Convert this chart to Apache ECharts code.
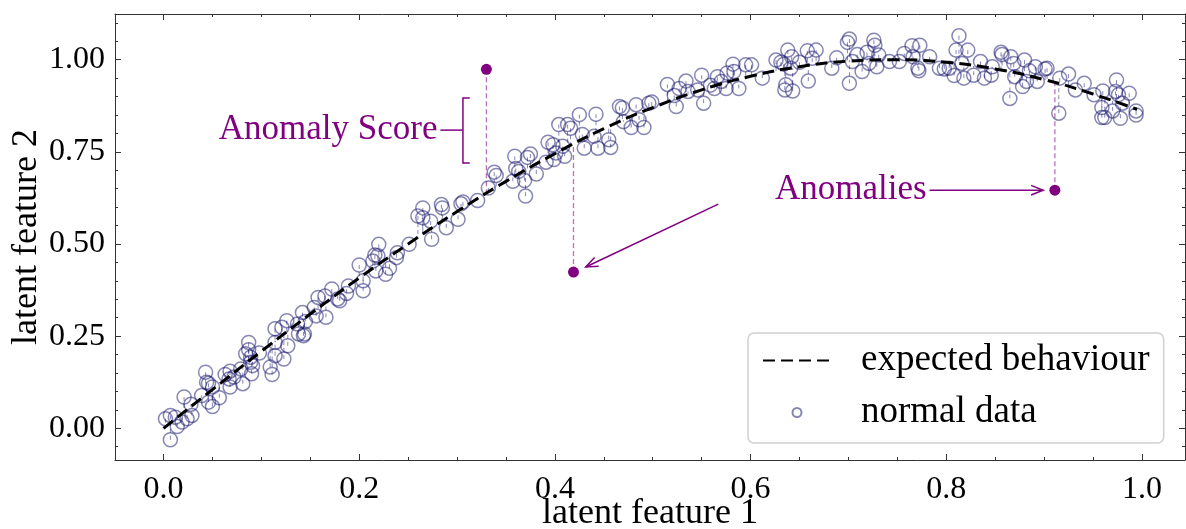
<!DOCTYPE html>
<html>
<head>
<meta charset="utf-8">
<title>latent features</title>
<script src="https://cdn.jsdelivr.net/npm/echarts@6/dist/echarts.min.js"></script>
<style>
    html, body { margin: 0; padding: 0; background: #fff; }
    #main { width: 1186px; height: 529px; }
</style>
</head>
<body>
<div id="main"></div>
<script>
// expected behaviour
var curveX = [0.00, 0.05, 0.10, 0.15, 0.20, 0.25, 0.30, 0.35, 0.40, 0.45, 0.50,
    0.55, 0.60, 0.65, 0.70, 0.75, 0.80, 0.85, 0.90, 0.95, 0.995];
var curveY = [0.000, 0.105, 0.209, 0.310, 0.408, 0.500, 0.588, 0.670, 0.745, 0.813, 0.870,
    0.918, 0.955, 0.981, 0.996, 1.000, 0.993, 0.975, 0.946, 0.907, 0.865];

// normal data
var normalX = [
    0.002, 0.007, 0.007, 0.012, 0.014, 0.019, 0.021, 0.024, 0.028, 0.029,
    0.039, 0.043, 0.044, 0.046, 0.046, 0.050, 0.050, 0.057, 0.063, 0.067,
    0.068, 0.072, 0.068, 0.081, 0.079, 0.084, 0.087, 0.087, 0.089, 0.090,
    0.091, 0.089, 0.098, 0.109, 0.111, 0.114, 0.114, 0.114, 0.121, 0.123,
    0.126, 0.127, 0.137, 0.138, 0.142, 0.144, 0.145, 0.143, 0.154, 0.156,
    0.158, 0.166, 0.165, 0.172, 0.178, 0.180, 0.187, 0.189, 0.200, 0.204,
    0.204, 0.214, 0.216, 0.217, 0.220, 0.219, 0.227, 0.231, 0.238, 0.239,
    0.251, 0.260, 0.265, 0.265, 0.273, 0.274, 0.284, 0.285, 0.289, 0.301,
    0.304, 0.306, 0.321, 0.332, 0.338, 0.340, 0.359, 0.357, 0.360, 0.363,
    0.369, 0.370, 0.372, 0.375, 0.381, 0.391, 0.393, 0.398, 0.399, 0.401,
    0.404, 0.408, 0.410, 0.413, 0.416, 0.425, 0.428, 0.430, 0.442, 0.440,
    0.444, 0.455, 0.457, 0.466, 0.469, 0.470, 0.478, 0.483, 0.486, 0.491,
    0.496, 0.499, 0.515, 0.522, 0.524, 0.527, 0.534, 0.536, 0.546, 0.550,
    0.552, 0.559, 0.563, 0.566, 0.570, 0.575, 0.576, 0.582, 0.583, 0.588,
    0.595, 0.601, 0.612, 0.626, 0.631, 0.634, 0.638, 0.642, 0.636, 0.635,
    0.643, 0.641, 0.650, 0.658, 0.659, 0.663, 0.667, 0.683, 0.688, 0.699,
    0.701, 0.701, 0.704, 0.709, 0.714, 0.719, 0.721, 0.726, 0.727, 0.729,
    0.731, 0.742, 0.752, 0.757, 0.765, 0.766, 0.771, 0.772, 0.773, 0.783,
    0.793, 0.798, 0.803, 0.808, 0.810, 0.813, 0.818, 0.822, 0.816, 0.828,
    0.835, 0.839, 0.846, 0.847, 0.856, 0.857, 0.866, 0.865, 0.869, 0.870,
    0.878, 0.880, 0.882, 0.885, 0.891, 0.893, 0.901, 0.903, 0.915, 0.916,
    0.925, 0.932, 0.941, 0.951, 0.960, 0.959, 0.959, 0.962, 0.970, 0.974,
    0.973, 0.976, 0.978, 0.980, 0.987, 0.994, 0.994
];
var normalY = [
    0.026, 0.035, -0.031, 0.030, 0.005, 0.017, 0.085, 0.026, 0.065, 0.035,
    0.089, 0.152, 0.125, 0.122, 0.071, 0.112, 0.059, 0.083, 0.146, 0.134,
    0.112, 0.139, 0.155, 0.121, 0.161, 0.202, 0.233, 0.213, 0.179, 0.148,
    0.170, 0.193, 0.204, 0.166, 0.146, 0.197, 0.270, 0.233, 0.274, 0.188,
    0.292, 0.224, 0.283, 0.256, 0.314, 0.256, 0.290, 0.251, 0.328, 0.305,
    0.355, 0.301, 0.359, 0.378, 0.351, 0.346, 0.366, 0.386, 0.443, 0.400,
    0.373, 0.454, 0.470, 0.427, 0.499, 0.468, 0.418, 0.434, 0.463, 0.476,
    0.499, 0.576, 0.598, 0.571, 0.562, 0.513, 0.607, 0.598, 0.544, 0.567,
    0.609, 0.614, 0.618, 0.652, 0.695, 0.686, 0.738, 0.670, 0.705, 0.697,
    0.672, 0.630, 0.735, 0.744, 0.690, 0.722, 0.776, 0.769, 0.729, 0.747,
    0.824, 0.765, 0.738, 0.824, 0.814, 0.851, 0.797, 0.760, 0.852, 0.792,
    0.760, 0.783, 0.762, 0.873, 0.869, 0.832, 0.816, 0.878, 0.837, 0.816,
    0.882, 0.885, 0.933, 0.903, 0.873, 0.922, 0.942, 0.914, 0.918, 0.958,
    0.882, 0.931, 0.922, 0.954, 0.941, 0.922, 0.964, 0.988, 0.968, 0.922,
    0.986, 0.986, 0.950, 0.999, 0.993, 0.988, 1.026, 1.008, 0.932, 0.918,
    0.915, 0.977, 0.993, 1.024, 0.942, 1.004, 1.026, 0.977, 1.005, 1.047,
    1.056, 0.936, 0.995, 1.014, 0.968, 1.020, 0.990, 1.053, 1.039, 0.981,
    1.013, 0.995, 0.995, 1.017, 1.038, 1.008, 0.977, 0.970, 1.039, 1.008,
    0.977, 0.975, 0.977, 0.957, 1.026, 1.065, 0.950, 1.026, 0.990, 0.958,
    0.995, 0.950, 0.958, 0.981, 1.020, 1.014, 1.008, 0.895, 0.990, 0.954,
    0.927, 0.999, 0.941, 0.970, 0.981, 0.941, 0.975, 0.977, 0.855, 0.950,
    0.961, 0.918, 0.936, 0.905, 0.915, 0.870, 0.843, 0.843, 0.861, 0.945,
    0.914, 0.905, 0.841, 0.882, 0.909, 0.861, 0.850
];

// anomalies
var anomalyX = [0.330, 0.419, 0.911];
var anomalyY = [0.974, 0.424, 0.646];

// ticks
var xTicks = [0.0, 0.2, 0.4, 0.6, 0.8, 1.0];
var yTicks = [0.00, 0.25, 0.50, 0.75, 1.00];

var xMin = -0.0496, xMax = 1.044;
var yMin = -0.086, yMax = 1.124;

var serif = 'Liberation Serif';
var purple = '#800080';
var pointColor = 'rgba(25, 25, 112, 0.52)';

var xMinorTicks = [];
for (var i = -1; i <= 20; i++) xMinorTicks.push(+(i * 0.05).toFixed(2));
var yMinorTicks = [];
for (var j = -1; j <= 22; j++) yMinorTicks.push(+(j * 0.05).toFixed(2));

function expected(x) {
    for (var k = 1; k < curveX.length; k++) {
        if (x <= curveX[k]) {
            var t = (x - curveX[k - 1]) / (curveX[k] - curveX[k - 1]);
            return curveY[k - 1] + t * (curveY[k] - curveY[k - 1]);
        }
    }
    return curveY[curveY.length - 1];
}

function makeAxis(kind, position, ticks, len, showLine, showLabel) {
    var isX = kind === 'x';
    var axis = {
        type: 'value',
        position: position,
        min: isX ? xMin : yMin,
        max: isX ? xMax : yMax,
        splitLine: {show: false},
        axisLine: {show: showLine, onZero: false, lineStyle: {color: '#333', width: 1}},
        axisTick: {show: true, inside: true, length: len, customValues: ticks,
            lineStyle: {color: '#333', width: 1}},
        axisLabel: {show: false}
    };
    if (showLabel) {
        axis.axisLabel = {
            show: true,
            customValues: ticks,
            color: '#000',
            fontFamily: serif,
            fontSize: 32,
            margin: isX ? 14 : 10,
            formatter: function (v) {
                return isX ? v.toFixed(1) : v.toFixed(2);
            }
        };
        axis.nameLocation = 'middle';
        axis.nameMoveOverlap = false;
        axis.nameTextStyle = {color: '#000', fontFamily: serif, fontSize: 36};
        if (isX) {
            axis.name = 'latent feature 1';
            axis.nameGap = 36;
        } else {
            axis.name = 'latent feature 2';
            axis.nameGap = 70;
        }
    }
    return axis;
}

var chart = echarts.init(document.getElementById('main'));

var curveData = curveX.map(function (x, i) { return [x, curveY[i]]; });
var normalData = normalX.map(function (x, i) { return [x, normalY[i]]; });
var normalResid = normalX.map(function (x, i) { return [x, normalY[i], expected(x)]; });
var anomalyData = anomalyX.map(function (x, i) { return [x, anomalyY[i]]; });
var anomalyResid = anomalyX.map(function (x, i) { return [x, anomalyY[i], expected(x)]; });

function residualSeries(data, color, width, dash) {
    return {
        type: 'custom',
        silent: true,
        z: 1,
        data: data,
        encode: {x: 0, y: 1},
        renderItem: function (params, api) {
            var x = api.value(0);
            var p1 = api.coord([x, api.value(1)]);
            var p2 = api.coord([x, api.value(2)]);
            return {
                type: 'line',
                shape: {x1: p1[0], y1: p1[1], x2: p2[0], y2: p2[1]},
                style: {stroke: color, lineWidth: width, lineDash: dash}
            };
        }
    };
}

var option = {
    animation: false,
    backgroundColor: '#fff',
    grid: {left: 115, right: 1, top: 14, bottom: 69, outerBoundsMode: 'none', containLabel: false},
    xAxis: [
        makeAxis('x', 'bottom', xTicks, 6, true, true),
        makeAxis('x', 'bottom', xMinorTicks, 3, false, false),
        makeAxis('x', 'top', xTicks, 6, true, false),
        makeAxis('x', 'top', xMinorTicks, 3, false, false)
    ],
    yAxis: [
        makeAxis('y', 'left', yTicks, 6, true, true),
        makeAxis('y', 'left', yMinorTicks, 3, false, false),
        makeAxis('y', 'right', yTicks, 6, true, false),
        makeAxis('y', 'right', yMinorTicks, 3, false, false)
    ],
    legend: {
        orient: 'vertical',
        left: 748,
        top: 333,
        padding: [9, 14, 12, 14],
        itemGap: 15,
        itemWidth: 68,
        itemHeight: 9,
        borderColor: '#d0d0d0',
        borderWidth: 1.5,
        borderRadius: 6,
        backgroundColor: '#fff',
        textStyle: {color: '#000', fontFamily: serif, fontSize: 37, lineHeight: 36,
            padding: [0, 0, 0, 25]},
        data: [
            {name: 'expected behaviour', itemStyle: {opacity: 0}},
            {name: 'normal data'}
        ]
    },
    series: [
        residualSeries(normalResid, pointColor, 1, [4, 3]),
        residualSeries(anomalyResid, 'rgba(128, 0, 128, 0.55)', 1.3, [5, 3]),
        {
            name: 'normal data',
            type: 'scatter',
            z: 2,
            symbol: 'circle',
            symbolSize: 14,
            itemStyle: {color: 'rgba(0,0,0,0)', borderColor: pointColor, borderWidth: 1.5, opacity: 1},
            data: normalData
        },
        {
            name: 'expected behaviour',
            type: 'line',
            z: 3,
            smooth: true,
            symbol: 'none',
            showSymbol: false,
            lineStyle: {color: '#000', width: 3, type: [12, 6]},
            data: curveData
        },
        {
            name: 'anomaly',
            type: 'scatter',
            z: 4,
            symbol: 'circle',
            symbolSize: 11,
            itemStyle: {color: purple, opacity: 1},
            data: anomalyData
        }
    ]
};

chart.setOption(option);

// annotations, placed in data units
function px(x, y) {
    return chart.convertToPixel({gridIndex: 0}, [x, y]);
}

function arrow(from, to) {
    var a = px(from[0], from[1]);
    var b = px(to[0], to[1]);
    var ang = Math.atan2(b[1] - a[1], b[0] - a[0]);
    var len = 13, spread = 0.38;
    var h1 = [b[0] - len * Math.cos(ang - spread), b[1] - len * Math.sin(ang - spread)];
    var h2 = [b[0] - len * Math.cos(ang + spread), b[1] - len * Math.sin(ang + spread)];
    return [
        {type: 'line', shape: {x1: a[0], y1: a[1], x2: b[0], y2: b[1]},
            style: {stroke: purple, lineWidth: 1.5}, z: 10},
        {type: 'polyline', shape: {points: [h1, b, h2]},
            style: {stroke: purple, lineWidth: 1.5, fill: null}, z: 10}
    ];
}

var scoreText = px(0.280, 0.809);
var stubA = px(0.283, 0.809);
var stubB = px(0.306, 0.809);
var brTop = px(0.306, 0.896);
var brBot = px(0.306, 0.7195);
var armEnd = px(0.313, 0.809);
var anomText = px(0.780, 0.646);

var graphics = [
    {type: 'text', z: 10, x: scoreText[0], y: scoreText[1],
        style: {text: 'Anomaly Score', fill: purple, font: '35px "' + serif + '"',
            align: 'right', verticalAlign: 'middle'}},
    {type: 'line', z: 10, shape: {x1: stubA[0], y1: stubA[1], x2: stubB[0], y2: stubB[1]},
        style: {stroke: purple, lineWidth: 1.5}},
    {type: 'polyline', z: 10,
        shape: {points: [[armEnd[0], brTop[1]], [brTop[0], brTop[1]], [brBot[0], brBot[1]], [armEnd[0], brBot[1]]]},
        style: {stroke: purple, lineWidth: 1.5, fill: null}},
    {type: 'text', z: 10, x: anomText[0], y: anomText[1],
        style: {text: 'Anomalies', fill: purple, font: '35px "' + serif + '"',
            align: 'right', verticalAlign: 'middle'}}
];
graphics = graphics.concat(arrow([0.567, 0.608], [0.4315, 0.4377]));
graphics = graphics.concat(arrow([0.783, 0.646], [0.899, 0.646]));

chart.setOption({graphic: graphics});
</script>
</body>
</html>
